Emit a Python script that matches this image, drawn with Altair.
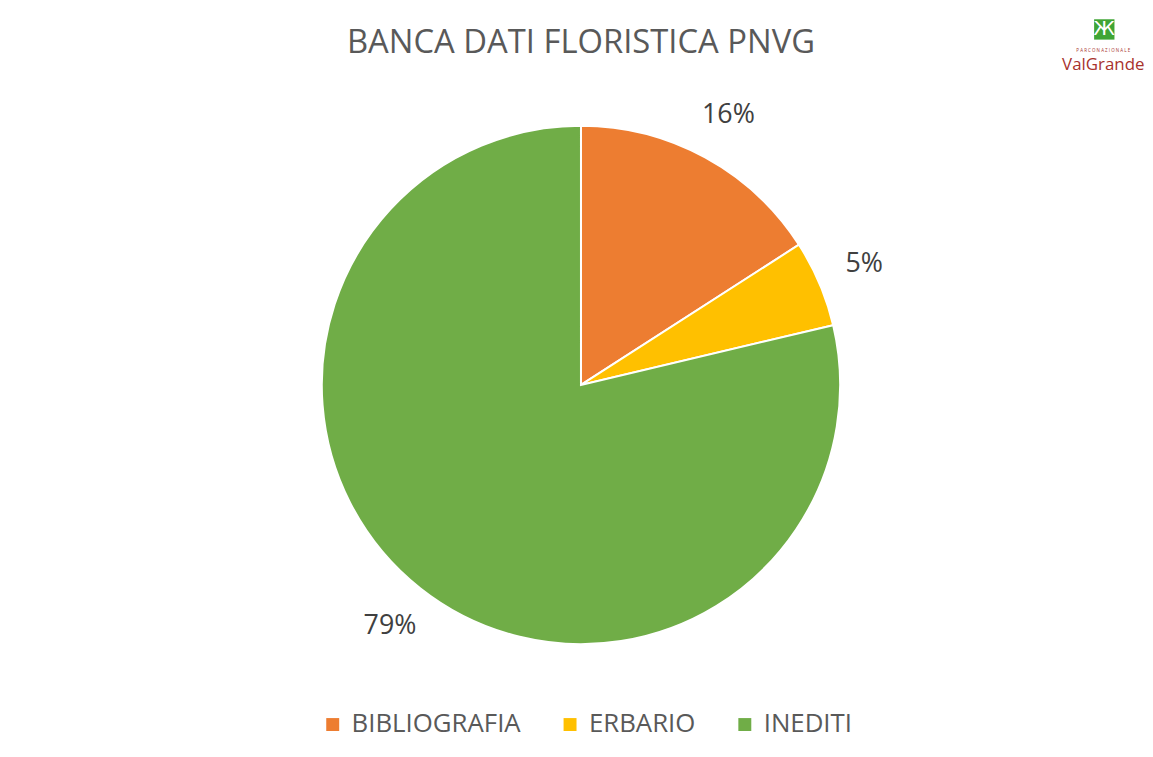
import altair as alt
import pandas as pd

categories = ["BIBLIOGRAFIA", "ERBARIO", "INEDITI"]
values = [15.9, 5.4, 78.7]
labels = ["16%", "5%", "79%"]
colors = ["#ED7D31", "#FFC000", "#70AD47"]
title_text = "BANCA DATI FLORISTICA PNVG"

df = pd.DataFrame({"cat": categories, "value": values, "label": labels, "ord": [0, 1, 2]})

FONT = "Open Sans"

base = alt.Chart(df).encode(
    theta=alt.Theta("value:Q", stack=True),
    order=alt.Order("ord:Q"),
)

pie = base.mark_arc(outerRadius=261, stroke="white", strokeWidth=2).encode(
    color=alt.Color(
        "cat:N",
        scale=alt.Scale(domain=categories, range=colors),
        legend=alt.Legend(
            title=None,
            orient="none",
            legendX=302,
            legendY=639,
            direction="horizontal",
            symbolType="square",
            symbolSize=170,
            symbolStrokeWidth=0,
            labelFontSize=26,
            labelFont=FONT,
            labelColor="#595959",
            labelLimit=400,
            columnPadding=36,
            labelOffset=6,
        ),
    )
)

text = base.mark_text(radius=310, fontSize=27, font=FONT, color="#404040").encode(
    text="label:N"
)

logo_df = pd.DataFrame({"t": ["ValGrande"], "s": ["P A R C O  N A Z I O N A L E"], "i": ["Ж"]})
logo_main = alt.Chart(logo_df).mark_text(
    fontSize=17, font=FONT, color="#A8322D", align="center", baseline="alphabetic"
).encode(text="t:N", x=alt.value(1091), y=alt.value(-7))
logo_sub = alt.Chart(logo_df).mark_text(
    fontSize=4.5, font=FONT, color="#A8322D", align="center", baseline="middle"
).encode(text="s:N", x=alt.value(1091), y=alt.value(-26))
logo_icon = alt.Chart(logo_df).mark_point(
    shape="square", filled=True, color="#3FA535", size=420, opacity=1
).encode(x=alt.value(1092), y=alt.value(-48))
logo_x = alt.Chart(logo_df).mark_text(
    fontSize=20, font="DejaVu Sans", color="white", baseline="middle"
).encode(text="i:N", x=alt.value(1092), y=alt.value(-48))

chart = alt.layer(pie, text, logo_icon, logo_x, logo_main, logo_sub).properties(
    width=1130,
    height=620,
    padding={"left": 12, "right": 0, "top": 8, "bottom": 4},
    title=alt.TitleParams(
        title_text, fontSize=33, font=FONT, fontWeight="normal", color="#595959",
        anchor="middle", offset=-41, frame="group",
    ),
).configure_view(stroke=None)

chart.save("out.html", embed_options={"renderer": "svg", "actions": False})
